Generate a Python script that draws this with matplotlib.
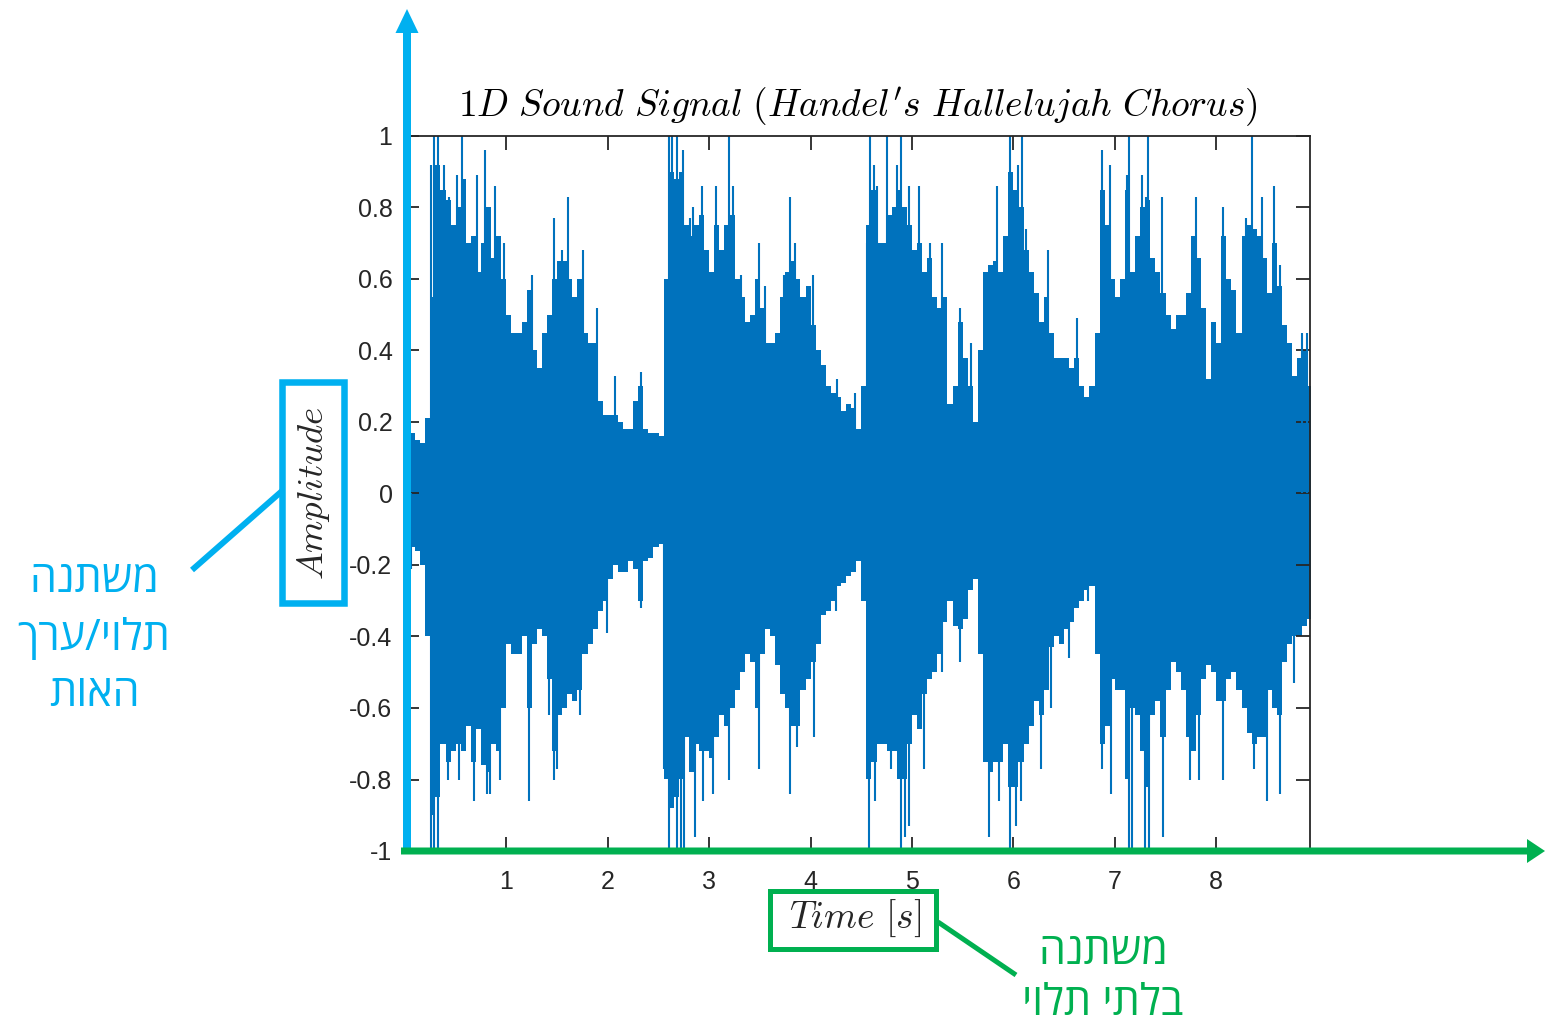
import numpy as np
import matplotlib
matplotlib.use("Agg")
import matplotlib.pyplot as plt
from matplotlib.patches import Rectangle, FancyArrow
from matplotlib.lines import Line2D
from matplotlib.transforms import Affine2D

# ---------------- data ----------------
t_max = 8.925                      # length of the recording [s]
env_step = 0.05                    # width of one envelope bin [s]

# upper envelope of the dense waveform, one value per 0.05 s bin
env_hi = [0.22, 0.17, 0.15, 0.14, 0.21, 0.55, 0.92, 0.85, 0.82, 0.75, 0.80, 0.88, 0.70, 0.72, 0.62, 0.70, 0.80, 0.66, 0.72, 0.60,
          0.50, 0.45, 0.45, 0.48, 0.57, 0.40, 0.35, 0.45, 0.50, 0.60, 0.65, 0.65, 0.60, 0.55, 0.60, 0.45, 0.42, 0.42, 0.26, 0.22,
          0.22, 0.22, 0.20, 0.18, 0.18, 0.26, 0.30, 0.18, 0.17, 0.17, 0.16, 0.60, 0.90, 0.88, 0.90, 0.75, 0.72, 0.75, 0.78, 0.68,
          0.62, 0.75, 0.68, 0.75, 0.78, 0.60, 0.55, 0.48, 0.50, 0.60, 0.52, 0.42, 0.42, 0.45, 0.55, 0.62, 0.65, 0.60, 0.55, 0.58,
          0.47, 0.40, 0.36, 0.30, 0.28, 0.27, 0.23, 0.25, 0.24, 0.18, 0.30, 0.75, 0.85, 0.70, 0.70, 0.78, 0.80, 0.85, 0.80, 0.75,
          0.68, 0.70, 0.62, 0.66, 0.55, 0.52, 0.55, 0.25, 0.30, 0.48, 0.38, 0.30, 0.20, 0.40, 0.62, 0.64, 0.65, 0.62, 0.72, 0.90,
          0.85, 0.80, 0.68, 0.62, 0.56, 0.48, 0.55, 0.45, 0.38, 0.38, 0.38, 0.35, 0.38, 0.30, 0.27, 0.30, 0.45, 0.85, 0.75, 0.60,
          0.55, 0.60, 0.85, 0.62, 0.72, 0.80, 0.82, 0.66, 0.62, 0.56, 0.50, 0.46, 0.50, 0.50, 0.56, 0.72, 0.66, 0.52, 0.32, 0.48,
          0.42, 0.72, 0.60, 0.57, 0.45, 0.72, 0.75, 0.74, 0.72, 0.66, 0.56, 0.70, 0.58, 0.47, 0.42, 0.33, 0.38, 0.40, 0.30]

# lower envelope of the dense waveform, one value per 0.05 s bin
env_lo = [-0.20, -0.15, -0.16, -0.20, -0.40, -0.90, -0.85, -0.70, -0.75, -0.72, -0.70, -0.72, -0.65, -0.75, -0.66, -0.76, -0.78, -0.70, -0.72, -0.60,
          -0.42, -0.45, -0.45, -0.40, -0.60, -0.42, -0.38, -0.40, -0.52, -0.72, -0.62, -0.60, -0.56, -0.58, -0.55, -0.45, -0.42, -0.38, -0.33, -0.30,
          -0.24, -0.20, -0.22, -0.22, -0.19, -0.21, -0.30, -0.19, -0.18, -0.15, -0.14, -0.80, -0.88, -0.85, -0.80, -0.68, -0.78, -0.70, -0.72, -0.72,
          -0.74, -0.68, -0.62, -0.65, -0.60, -0.55, -0.50, -0.45, -0.47, -0.60, -0.45, -0.38, -0.40, -0.48, -0.56, -0.60, -0.65, -0.65, -0.55, -0.52,
          -0.47, -0.42, -0.34, -0.33, -0.30, -0.26, -0.25, -0.23, -0.22, -0.19, -0.30, -0.80, -0.75, -0.70, -0.70, -0.72, -0.72, -0.80, -0.80, -0.70,
          -0.62, -0.66, -0.56, -0.52, -0.50, -0.45, -0.36, -0.30, -0.37, -0.38, -0.35, -0.27, -0.24, -0.45, -0.75, -0.78, -0.75, -0.75, -0.70, -0.82,
          -0.82, -0.75, -0.70, -0.65, -0.58, -0.62, -0.55, -0.43, -0.40, -0.42, -0.38, -0.36, -0.32, -0.30, -0.27, -0.26, -0.45, -0.70, -0.65, -0.52,
          -0.55, -0.55, -0.80, -0.60, -0.62, -0.72, -0.82, -0.62, -0.58, -0.68, -0.55, -0.47, -0.50, -0.55, -0.68, -0.72, -0.62, -0.52, -0.48, -0.50,
          -0.58, -0.58, -0.52, -0.50, -0.55, -0.60, -0.67, -0.70, -0.68, -0.68, -0.55, -0.60, -0.62, -0.47, -0.42, -0.40, -0.40, -0.37, -0.35]

# isolated positive peaks (time [s], amplitude)
peak_hi_t = [0.01, 0.26, 0.29, 0.33, 0.38, 0.43, 0.51, 0.56, 0.71, 0.79, 0.89, 0.98, 1.25, 1.47, 1.55, 1.61, 1.76, 1.89, 2.07, 2.33,
             2.60, 2.63, 2.68, 2.71, 2.74, 2.81, 2.84, 2.93, 3.07, 3.20, 3.23, 3.31, 3.49, 3.55, 3.64, 3.74, 3.80, 3.85, 4.02, 4.26,
             4.44, 4.56, 4.59, 4.63, 4.65, 4.75, 4.85, 4.89, 4.97, 5.07, 5.18, 5.30, 5.47, 5.58, 5.84, 5.97, 6.05, 6.08, 6.12, 6.34,
             6.63, 6.87, 6.95, 7.12, 7.14, 7.27, 7.31, 7.33, 7.47, 7.80, 8.07, 8.29, 8.35, 8.45, 8.57, 8.63, 8.85, 8.90]
peak_hi_v = [0.24, 0.92, 1.0, 1.0, 0.92, 0.83, 0.89, 1.0, 0.89, 0.96, 0.86, 0.70, 0.61, 0.77, 0.68, 0.83, 0.68, 0.52, 0.33, 0.34,
             1.0, 1.0, 1.0, 0.83, 0.96, 0.77, 0.80, 0.86, 0.86, 1.0, 0.86, 0.61, 0.70, 0.58, 0.42, 0.61, 0.83, 0.70, 0.61, 0.32,
             0.28, 0.70, 1.0, 0.92, 0.86, 1.0, 0.92, 1.0, 0.86, 0.86, 0.70, 0.70, 0.52, 0.42, 0.86, 1.0, 0.92, 1.0, 0.74, 0.68,
             0.49, 0.96, 0.92, 0.89, 1.0, 0.89, 0.83, 1.0, 0.83, 0.83, 0.80, 0.77, 1.0, 0.83, 0.86, 0.64, 0.45, 0.45]

# isolated negative peaks (time [s], amplitude)
peak_lo_t = [0.06, 0.26, 0.29, 0.33, 0.42, 0.53, 0.68, 0.81, 0.84, 0.94, 1.22, 1.42, 1.47, 1.50, 1.73, 1.99, 2.33, 2.55, 2.60, 2.63,
             2.68, 2.72, 2.75, 2.86, 2.94, 3.04, 3.20, 3.49, 3.80, 3.87, 4.03, 4.25, 4.58, 4.64, 4.79, 4.89, 4.93, 4.97, 5.12, 5.30,
             5.47, 5.76, 5.86, 5.97, 6.03, 6.07, 6.27, 6.37, 6.55, 6.74, 6.87, 6.96, 7.14, 7.17, 7.30, 7.34, 7.48, 7.74, 7.83, 8.07,
             8.37, 8.50, 8.63, 8.77]
peak_lo_v = [-0.21, -1.0, -1.0, -1.0, -0.80, -0.80, -0.86, -0.84, -0.84, -0.80, -0.86, -0.62, -0.80, -0.77, -0.62, -0.39, -0.32, -0.77, -1.0, -0.86,
             -1.0, -1.0, -1.0, -0.96, -0.86, -0.84, -0.80, -0.77, -0.84, -0.71, -0.68, -0.33, -1.0, -0.86, -0.77, -1.0, -0.96, -0.93, -0.77, -0.50,
             -0.47, -0.96, -0.86, -1.0, -0.93, -0.86, -0.77, -0.60, -0.46, -0.30, -0.77, -0.84, -1.0, -1.0, -1.0, -1.0, -0.96, -0.80, -0.80, -0.80,
             -0.77, -0.86, -0.84, -0.53]

x_ticks = [1, 2, 3, 4, 5, 6, 7, 8]
y_ticks = [-1, -0.8, -0.6, -0.4, -0.2, 0, 0.2, 0.4, 0.6, 0.8, 1]
y_tick_labels = ["-1", "-0.8", "-0.6", "-0.4", "-0.2", "0", "0.2", "0.4", "0.6", "0.8", "1"]

title_text = r"$1D\ Sound\ Signal\ (Handel^{\prime}s\ Hallelujah\ Chorus)$"
xlabel_text = r"$Time\ [s]$"
ylabel_text = r"$Amplitude$"

# Hebrew annotations (logical order); reversed for left-to-right drawing
dep_lines = ["משתנה", "תלוי/ערך", "האות"]
indep_lines = ["משתנה", "בלתי תלוי"]

# ---------------- style ----------------
SIG = "#0072BD"
CYAN = "#00B0F0"
GREEN = "#00B050"
DARK = "#262626"

plt.rcParams["mathtext.fontset"] = "cm"
plt.rcParams["font.family"] = ["Liberation Sans", "DejaVu Sans"]

W, H = 1545, 1027
fig = plt.figure(figsize=(W / 100, H / 100), dpi=100)
pix = Affine2D().scale(1 / W, -1 / H).translate(0, 1) + fig.transFigure

ax = fig.add_axes([405 / W, 1 - 851 / H, 905 / W, 715 / H])

# waveform body
n = len(env_hi)
t_edges = np.arange(n + 1) * env_step
hi = np.append(env_hi, env_hi[-1])
lo = np.append(env_lo, env_lo[-1])
ax.fill_between(t_edges, lo, hi, step="post", color=SIG, lw=0)
# isolated peaks
ax.vlines(peak_hi_t, 0, peak_hi_v, color=SIG, lw=1.5)
ax.vlines(peak_lo_t, 0, peak_lo_v, color=SIG, lw=1.5)

ax.set_xlim(0, t_max)
ax.set_ylim(-1, 1)
ax.set_xticks(x_ticks)
ax.set_xticklabels([str(v) for v in x_ticks])
ax.set_yticks(y_ticks)
ax.set_yticklabels(y_tick_labels)
ax.tick_params(direction="in", length=10, width=1.3, top=True, right=True,
               labelsize=18, colors=DARK)
ax.tick_params(axis="x", pad=14)
ax.tick_params(axis="y", pad=9)
for s in ax.spines.values():
    s.set_color(DARK)
    s.set_linewidth(1.3)

ax.set_title(title_text, fontsize=27, pad=14, color="black")
ax.set_xlabel(xlabel_text, fontsize=27, va="center", color=DARK)
ax.xaxis.set_label_coords((855 - 405) / 905, (851 - 918) / 715)
ax.set_ylabel(ylabel_text, fontsize=26.5, va="center", color=DARK)
ax.yaxis.set_label_coords((313 - 405) / 905, 0.5)

# ---------------- annotation graphics (pixel coordinates) ----------------
fig.add_artist(Rectangle((282, 382), 62, 221, fill=False, ec=CYAN, lw=4.7, transform=pix))
fig.add_artist(Rectangle((769.5, 890.5), 166, 58, fill=False, ec=GREEN, lw=3.6, transform=pix))
fig.add_artist(Line2D([192, 282], [570, 491], color=CYAN, lw=4.3, transform=pix, solid_capstyle="butt"))
fig.add_artist(Line2D([938, 1016], [922, 975], color=GREEN, lw=3.6, transform=pix, solid_capstyle="butt"))

fig.add_artist(FancyArrow(407, 851, 0, 9 - 851, width=8, head_width=23, head_length=24,
                          length_includes_head=True, color=CYAN, lw=0, transform=pix))
fig.add_artist(FancyArrow(401, 851, 1545 - 401, 0, width=7, head_width=24, head_length=18,
                          length_includes_head=True, color=GREEN, lw=0, transform=pix))

heb_font = ["Open Sans", "DejaVu Sans"]
for line, yb in zip(dep_lines, [592, 650, 706]):
    fig.text(94, yb, line[::-1], transform=pix, ha="center", va="baseline",
             fontsize=31, fontweight="medium", color=CYAN, family=heb_font)
for line, yb in zip(indep_lines, [964, 1015]):
    fig.text(1103, yb, line[::-1], transform=pix, ha="center", va="baseline",
             fontsize=31, fontweight="medium", color=GREEN, family=heb_font)

fig.savefig("out.png", dpi=100)
